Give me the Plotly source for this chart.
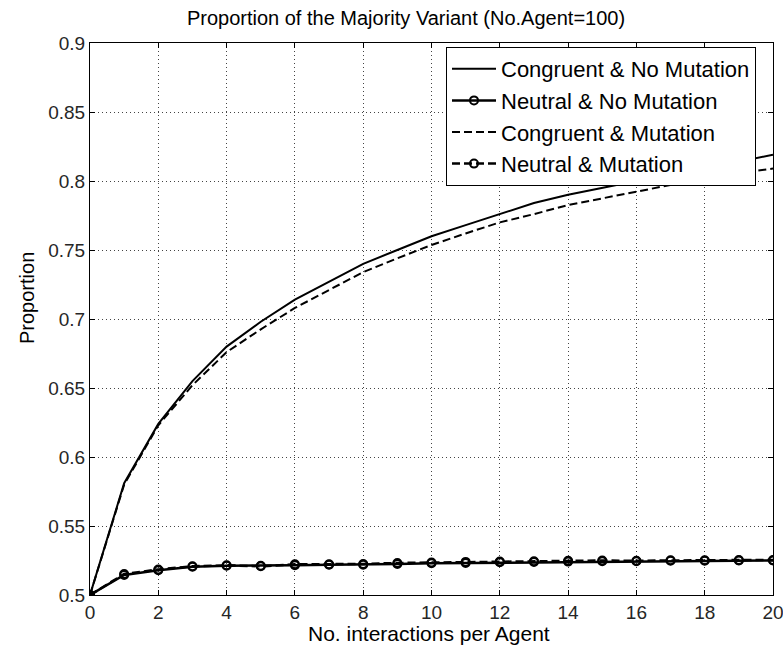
import plotly.graph_objects as go

# Interactions per agent
interactions = list(range(0, 21))

# Proportion of the majority variant for each condition
congruent_no_mut = [0.500, 0.581, 0.624, 0.655, 0.680, 0.698, 0.714, 0.727, 0.740, 0.750,
                    0.760, 0.768, 0.776, 0.784, 0.790, 0.795, 0.800, 0.805, 0.810, 0.814, 0.819]
neutral_no_mut = [0.500, 0.5145, 0.518, 0.5205, 0.5212, 0.5212, 0.5215, 0.5220, 0.5220, 0.5225,
                  0.5230, 0.5232, 0.5238, 0.5240, 0.5242, 0.5245, 0.5245, 0.5248, 0.5248, 0.5250, 0.5250]
congruent_mut = [0.500, 0.580, 0.623, 0.652, 0.676, 0.6925, 0.708, 0.721, 0.734, 0.744,
                 0.7536, 0.762, 0.770, 0.776, 0.7826, 0.7874, 0.7923, 0.797, 0.802, 0.8056, 0.809]
neutral_mut = [0.500, 0.5152, 0.5185, 0.5208, 0.5215, 0.5208, 0.5222, 0.5222, 0.5225, 0.5232,
               0.5235, 0.5240, 0.5242, 0.5245, 0.5248, 0.5250, 0.5248, 0.5252, 0.5252, 0.5253, 0.5253]

x_ticks = list(range(0, 21, 2))
y_ticks = [0.5, 0.55, 0.6, 0.65, 0.7, 0.75, 0.8, 0.85, 0.9]
y_tick_labels = ["0.5", "0.55", "0.6", "0.65", "0.7", "0.75", "0.8", "0.85", "0.9"]

FONT = "Liberation Sans, Arial, Helvetica, sans-serif"
W, H = 783, 647
L, R, T, B = 90, 10, 43, 52

fig = go.Figure()

fig.add_trace(go.Scatter(
    x=interactions, y=congruent_no_mut, name="Congruent & No Mutation",
    mode="lines", line=dict(color="black", width=2)))
fig.add_trace(go.Scatter(
    x=interactions, y=neutral_no_mut, name="Neutral & No Mutation",
    mode="lines+markers", line=dict(color="black", width=2.5),
    marker=dict(symbol="circle-open", size=8, color="black", line=dict(width=2))))
fig.add_trace(go.Scatter(
    x=interactions, y=congruent_mut, name="Congruent & Mutation",
    mode="lines", line=dict(color="black", width=2, dash="8px,4px")))
fig.add_trace(go.Scatter(
    x=interactions, y=neutral_mut, name="Neutral & Mutation",
    mode="lines+markers", line=dict(color="black", width=2.5, dash="8px,4px"),
    marker=dict(symbol="circle-open", size=8, color="black", line=dict(width=2))))

axis_common = dict(
    showline=True, linecolor="black", linewidth=1, mirror="allticks",
    ticks="inside", ticklen=5, tickcolor="black", tickwidth=1,
    showgrid=True, gridcolor="#444", gridwidth=1, griddash="1px,3px",
    zeroline=False, tickfont=dict(family=FONT, size=19, color="#262626"),
    ticklabeloverflow="allow", automargin=False,
)

fig.update_xaxes(range=[0, 20], tickvals=x_ticks, **axis_common)
fig.update_yaxes(range=[0.5, 0.9], tickvals=y_ticks, ticktext=y_tick_labels, **axis_common)

fig.update_layout(
    width=W, height=H,
    margin=dict(l=L, r=R, t=T, b=B, autoexpand=False),
    plot_bgcolor="white", paper_bgcolor="white",
    font=dict(family=FONT, color="black"),
    title=dict(text="Proportion of the Majority Variant (No.Agent=100)",
               x=406 / W, xanchor="center", y=1 - 18 / H, yanchor="middle",
               font=dict(family=FONT, size=20, color="black")),
    showlegend=True,
    legend=dict(x=(446 - L) / (W - L - R), y=1 - (47 - T) / (H - T - B),
                xanchor="left", yanchor="top",
                bgcolor="white", bordercolor="black", borderwidth=1,
                font=dict(family=FONT, size=22, color="black"),
                tracegroupgap=0, itemwidth=44),
    annotations=[
        dict(text="No. interactions per Agent", xref="paper", yref="paper",
             x=0.497, y=-(633 - 595) / (H - T - B), xanchor="center", yanchor="middle",
             showarrow=False, font=dict(family=FONT, size=21, color="black")),
        dict(text="Proportion", xref="paper", yref="paper",
             x=-(L - 27) / (W - L - R), y=(595 - 298) / (H - T - B),
             xanchor="center", yanchor="middle", textangle=-90,
             showarrow=False, font=dict(family=FONT, size=20, color="black")),
    ],
)

fig.write_html("out.html")
